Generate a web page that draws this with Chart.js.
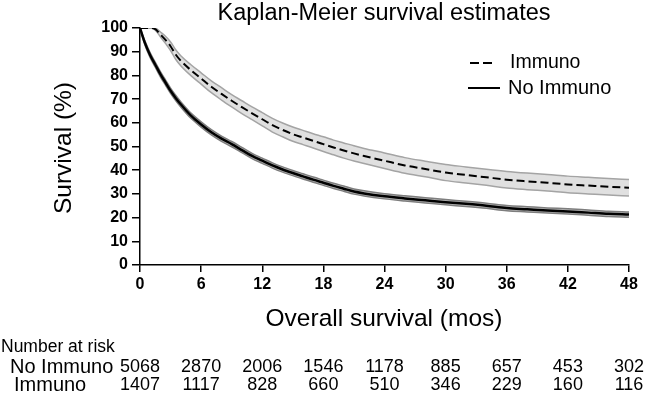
<!DOCTYPE html>
<html>
<head>
<meta charset="utf-8">
<script src="https://cdn.jsdelivr.net/npm/chart.js@4"></script>
<style>
html,body{margin:0;padding:0;background:#fff;}
#wrap{width:646px;height:395px;position:relative;}
</style>
</head>
<body>
<div id="wrap"><canvas id="c" width="646" height="395"></canvas></div>
<script>
const months = [0,0.5,1,1.5,2,2.5,3,3.5,4,5,6,7,8,9,10,11,12,13,14,15,16,17,18,19,20,21,22,24,26,28,30,32,34,36,38,40,42,44,46,48];
const immuno = [100,100,100,99.5,97.3,95,92.3,88.8,86.2,82.2,78.7,75.2,72.2,69.3,66.6,64,61.5,59,57,55.2,53.8,52.4,51,49.6,48.3,47.1,46,44,42,40.5,39,38,37,36,35.3,34.7,34,33.5,33,32.6];
const immunoHi = [100,100,100,99.9,98.3,96.5,94.1,90.8,88.3,84.5,81.1,77.7,74.8,71.9,69.3,66.7,64.3,61.9,59.9,58.2,56.8,55.4,54.1,52.7,51.5,50.3,49.2,47.3,45.3,43.8,42.4,41.4,40.4,39.5,38.8,38.2,37.5,37,36.5,36.1];
const immunoLo = [100,100,100,99.1,96.3,93.5,90.5,86.8,84.1,79.9,76.3,72.7,69.6,66.7,63.9,61.3,58.7,56.1,54.1,52.2,50.8,49.4,47.9,46.5,45.1,43.9,42.8,40.7,38.7,37.2,35.6,34.6,33.6,32.5,31.8,31.2,30.5,30,29.5,29.1];
const noImmuno = [100,93.5,88.5,84.5,80.5,77,73.5,70.5,67.8,63,59.3,56,53.3,51,48.5,46,44,42,40.3,38.8,37.4,36,34.7,33.4,32.2,31,30.2,29,28.1,27.3,26.5,25.8,25,24,23.5,23,22.6,22.1,21.6,21.3];
const noImmunoHi = [100,94.4,89.5,85.5,81.6,78.1,74.6,71.6,68.9,64.1,60.4,57.1,54.4,52.1,49.6,47.1,45.1,43.1,41.4,39.9,38.5,37.1,35.8,34.5,33.3,32.1,31.3,30.1,29.2,28.4,27.6,26.9,26.1,25.1,24.6,24.1,23.7,23.2,22.7,22.4];
const noImmunoLo = [100,92.6,87.5,83.5,79.4,75.9,72.4,69.4,66.7,61.9,58.2,54.9,52.2,49.9,47.4,44.9,42.9,40.9,39.2,37.7,36.3,34.9,33.6,32.3,31.1,29.9,29.1,27.9,27,26.2,25.4,24.7,23.9,22.9,22.4,21.9,21.5,21,20.5,20.2];

const xTicks = [0,6,12,18,24,30,36,42,48];
const riskNoImmuno = [5068,2870,2006,1546,1178,885,657,453,302];
const riskImmuno = [1407,1117,828,660,510,346,229,160,116];

const titleText = 'Kaplan-Meier survival estimates';
const xTitle = 'Overall survival (mos)';
const yTitle = 'Survival (%)';

const pts = arr => arr.map((v,i)=>({x:months[i], y:v}));
const FONT = '"Liberation Sans", Arial, sans-serif';

const overlay = {
  id:'overlay',
  afterDraw(chart){
    const ctx = chart.ctx, xs = chart.scales.x;
    ctx.save();
    ctx.fillStyle = '#000';
    ctx.textBaseline = 'middle';
    ctx.textAlign = 'center';
    ctx.font = '23.5px ' + FONT;
    ctx.fillText(titleText, 384, 14);
    ctx.font = '24.5px ' + FONT;
    ctx.fillText(xTitle, 384, 319);
    ctx.save();
    ctx.translate(64, 148);
    ctx.rotate(-Math.PI/2);
    ctx.font = '24.5px ' + FONT;
    ctx.fillText(yTitle, 0, 0);
    ctx.restore();
    // legend
    ctx.strokeStyle = '#000';
    ctx.lineWidth = 2;
    ctx.setLineDash([9,4]);
    ctx.beginPath(); ctx.moveTo(470,63); ctx.lineTo(493,63); ctx.stroke();
    ctx.setLineDash([]);
    ctx.beginPath(); ctx.moveTo(468,88); ctx.lineTo(500,88); ctx.stroke();
    ctx.textAlign = 'left';
    ctx.font = '19.5px ' + FONT;
    ctx.fillText('Immuno', 510, 63);
    ctx.font = '20px ' + FONT;
    ctx.fillText('No Immuno', 508, 88);
    // risk table
    ctx.font = '17.5px ' + FONT;
    ctx.fillText('Number at risk', 1, 347);
    ctx.font = '20px ' + FONT;
    ctx.fillText('No Immuno', 10, 367);
    ctx.fillText('Immuno', 14, 385);
    ctx.font = '18px ' + FONT;
    ctx.textAlign = 'center';
    xTicks.forEach((t,i)=>{
      const px = xs.getPixelForValue(t);
      ctx.fillText(String(riskNoImmuno[i]), px, 367);
      ctx.fillText(String(riskImmuno[i]), px, 385);
    });
    ctx.restore();
  }
};

new Chart(document.getElementById('c'), {
  type:'line',
  data:{
    datasets:[
      {label:'Immuno CI low', data:pts(immunoLo), borderColor:'#a4a4a4', borderWidth:1.5, pointRadius:0, fill:false, order:3},
      {label:'Immuno CI high', data:pts(immunoHi), borderColor:'#a4a4a4', borderWidth:1.5, pointRadius:0, fill:{target:0}, backgroundColor:'#e0e0e0', order:3},
      {label:'No Immuno CI low', data:pts(noImmunoLo), borderColor:'#7e7e7e', borderWidth:1.5, pointRadius:0, fill:false, order:2},
      {label:'No Immuno CI high', data:pts(noImmunoHi), borderColor:'#7e7e7e', borderWidth:1.5, pointRadius:0, fill:{target:2}, backgroundColor:'#bdbdbd', order:2},
      {label:'Immuno', data:pts(immuno), borderColor:'#000', borderWidth:2, borderDash:[8,4], pointRadius:0, fill:false, order:0},
      {label:'No Immuno', data:pts(noImmuno), borderColor:'#000', borderWidth:2.5, pointRadius:0, fill:false, order:0}
    ]
  },
  options:{
    responsive:false,
    animation:false,
    events:[],
    layout:{padding:{top:28, right:17, left:0, bottom:0}},
    plugins:{legend:{display:false}, title:{display:false}, tooltip:{enabled:false}},
    elements:{line:{cubicInterpolationMode:'monotone'}},
    scales:{
      x:{
        type:'linear', min:0, max:48,
        afterFit(s){ s.height = 130; },
        afterBuildTicks(s){ s.ticks = xTicks.map(v=>({value:v})); },
        ticks:{color:'#000', font:{family:FONT, size:16, weight:'bold'}, padding:3, maxRotation:0},
        grid:{display:true, drawOnChartArea:false, drawTicks:true, tickLength:7, color:'#000', lineWidth:1.5},
        border:{display:true, color:'#000', width:1.5}
      },
      y:{
        min:0, max:100,
        afterFit(s){ s.width = 140; },
        ticks:{stepSize:10, color:'#000', font:{family:FONT, size:16, weight:'bold'}, padding:4},
        grid:{display:true, drawOnChartArea:false, drawTicks:true, tickLength:8, color:'#000', lineWidth:1.5},
        border:{display:true, color:'#000', width:1.5}
      }
    }
  },
  plugins:[overlay]
});
</script>
</body>
</html>
